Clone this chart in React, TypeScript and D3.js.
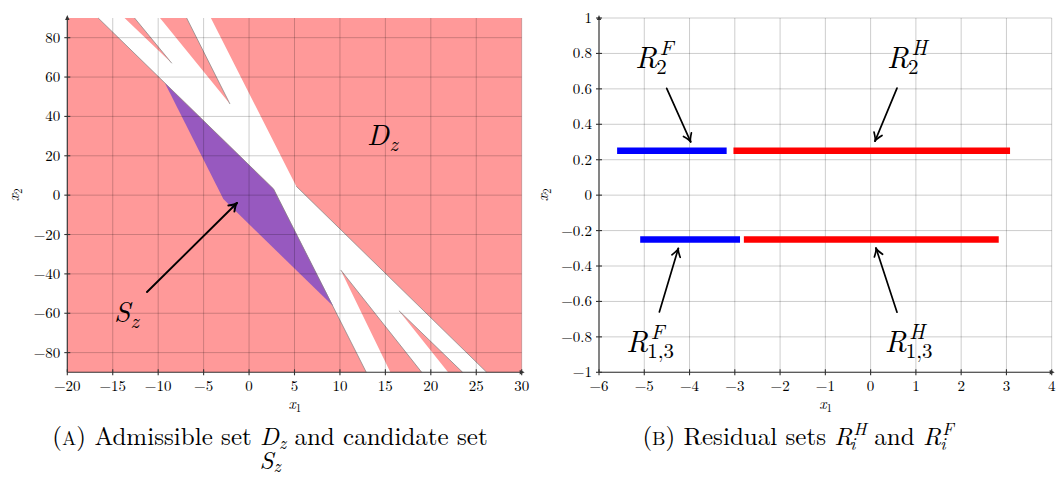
import React from "react";
import * as d3 from "d3";

const FONT = "'Latin Modern Roman'";

// ---------------- Panel A : admissible set D_z and candidate set S_z ----------------
const domainXA: [number, number] = [-20, 30];
const domainYA: [number, number] = [-90, 90];
const xTicksA = [-20, -15, -10, -5, 0, 5, 10, 15, 20, 25, 30];
const yTicksA = [-80, -60, -40, -20, 0, 20, 40, 60, 80];

// region of the window NOT in D_z (white band), vertices in (x1, x2)
const excludedBand: [number, number][] = [
  [-16.6, 90], [2.7, 3.14], [12.9, -90], [26.15, -90], [5.19, 4.55], [-4.2, 90],
];
// admissible wedges lying inside that band
const admissibleSpikes: [number, number][][] = [
  [[-13.7, 90], [-12.6, 90], [-8.5, 67]],
  [[-9.8, 90], [-6.87, 90], [-2.1, 46.3]],
  [[10.08, -38], [15.55, -90], [19.0, -90]],
  [[16.49, -58.7], [21.9, -90], [23.5, -90]],
];
// candidate set S_z
const candidateSet: [number, number][] = [
  [-9.25, 56.8], [2.7, 3.14], [9.27, -56.5], [-2.83, -2.0],
];
// constraint boundary segments drawn in gray
const boundaryEdges: [number, number][][] = [
  [[-16.6, 90], [2.7, 3.14]],
  [[2.7, 3.14], [12.9, -90]],
  [[5.19, 4.55], [26.15, -90]],
  [[-12.6, 90], [-8.5, 67]],
  [[-6.87, 90], [-2.1, 46.3]],
  [[10.08, -38], [19.0, -90]],
  [[16.49, -58.7], [23.5, -90]],
];
const arrowA: [number, number][] = [[-11.23, -49.2], [-1.33, -4.0]];
const labelDz: [number, number] = [12.97, 25.5];
const labelSz: [number, number] = [-14.86, -64.5];

// ---------------- Panel B : residual sets ----------------
const domainXB: [number, number] = [-6, 4];
const domainYB: [number, number] = [-1, 1];
const xTicksB = [-6, -5, -4, -3, -2, -1, 0, 1, 2, 3, 4];
const yTicksB = [-1, -0.8, -0.6, -0.4, -0.2, 0, 0.2, 0.4, 0.6, 0.8, 1];

const residualSub = ["2", "2", "1,3", "1,3"];
const residualKind = ["F", "H", "F", "H"];
const residualLevel = [0.25, 0.25, -0.25, -0.25];
const residualStart = [-5.6, -3.03, -5.09, -2.8];
const residualEnd = [-3.18, 3.08, -2.885, 2.83];
const residualArrowTail: [number, number][] = [[-4.505, 0.603], [0.583, 0.604], [-4.667, -0.659], [0.583, -0.661]];
const residualArrowHead: [number, number][] = [[-3.975, 0.301], [0.097, 0.305], [-4.248, -0.301], [0.119, -0.299]];
const residualLabelAt: [number, number][] = [[-5.2, 0.718], [0.36, 0.718], [-5.4, -0.887], [0.31, -0.887]];

const kindColor: Record<string, string> = { F: "#0000ff", H: "#ff0000" };

const fmt = (v: number) => (v < 0 ? "\u2212" + String(Math.abs(v)) : String(v));

function ArrowLine({ x1, y1, x2, y2, w = 1.7 }: { x1: number; y1: number; x2: number; y2: number; w?: number }) {
  const a = Math.atan2(y2 - y1, x2 - x1);
  const L = 9, h = 0.5;
  const p1 = [x2 - L * Math.cos(a - h), y2 - L * Math.sin(a - h)];
  const p2 = [x2 - L * Math.cos(a + h), y2 - L * Math.sin(a + h)];
  return (
    <g stroke="#000" strokeWidth={w} fill="none" strokeLinecap="round" strokeLinejoin="round">
      <line x1={x1} y1={y1} x2={x2} y2={y2} />
      <path d={`M${p1[0]},${p1[1]}Q${x2 - 2 * Math.cos(a)},${y2 - 2 * Math.sin(a)} ${x2},${y2}Q${x2 - 2 * Math.cos(a)},${y2 - 2 * Math.sin(a)} ${p2[0]},${p2[1]}`} />
    </g>
  );
}

function MathLabel({ x, y, base, sub, sup, size, subDx, supDx, subItalic = false }: any) {
  const s = size * 0.7;
  return (
    <g style={{ fontFamily: FONT }}>
      <text x={x} y={y} fontSize={size} fontStyle="italic">{base}</text>
      {sup && <text x={x + supDx} y={y - size * 0.43} fontSize={s} fontStyle="italic">{sup}</text>}
      {sub && <text x={x + subDx} y={y + size * 0.2} fontSize={s} fontStyle={subItalic ? "italic" : "normal"}>{sub}</text>}
    </g>
  );
}

function Grid({ x, y, xTicks, yTicks }: any) {
  const [x0, x1] = x.range();
  const [yb, yt] = y.range();
  return (
    <g stroke="#000" strokeOpacity={0.2} strokeWidth={1}>
      {xTicks.map((t: number) => (
        <line key={"gx" + t} x1={x(t)} x2={x(t)} y1={yt} y2={yb} />
      ))}
      {yTicks.map((t: number) => (
        <line key={"gy" + t} x1={x0} x2={x1} y1={y(t)} y2={y(t)} />
      ))}
    </g>
  );
}

function AxisFrame({ x, y, xTicks, yTicks, label }: any) {
  const [x0, x1] = x.range();
  const [yb, yt] = y.range();
  return (
    <g style={{ fontFamily: FONT }}>
      <g stroke="#333" strokeWidth={1.1}>
        <line x1={x0} x2={x1 + 1} y1={yb} y2={yb} />
        <line x1={x0} x2={x0} y1={yb} y2={yt - 1} />
        {xTicks.map((t: number) => (
          <line key={"tx" + t} x1={x(t)} x2={x(t)} y1={yb - 3} y2={yb + 3} />
        ))}
        {yTicks.map((t: number) => (
          <line key={"ty" + t} x1={x0 - 3} x2={x0 + 3} y1={y(t)} y2={y(t)} />
        ))}
      </g>
      <path d={`M${x1 + 3},${yb}L${x1 - 2},${yb - 2.2}L${x1 - 2},${yb + 2.2}Z`} fill="#333" />
      <path d={`M${x0},${yt - 3}L${x0 - 2.2},${yt + 2}L${x0 + 2.2},${yt + 2}Z`} fill="#333" />
      {xTicks.map((t: number) => (
        <text key={"lx" + t} x={x(t)} y={391} fontSize={15} textAnchor="middle">{fmt(t)}</text>
      ))}
      {yTicks.map((t: number) => (
        <text key={"ly" + t} x={x0 - 7} y={y(t) + 5} fontSize={15} textAnchor="end">{fmt(t)}</text>
      ))}
      <text x={(x0 + x1) / 2 - 6} y={409} fontSize={15.5} fontStyle="italic">
        x<tspan fontSize={11} fontStyle="normal" dy={3}>1</tspan>
      </text>
      <text transform={`translate(${label},${(yb + yt) / 2 + 6}) rotate(-90)`} fontSize={15.5} fontStyle="italic">
        x<tspan fontSize={11} fontStyle="normal" dy={3}>2</tspan>
      </text>
    </g>
  );
}

export default function App() {
  const xA = d3.scaleLinear().domain(domainXA).range([67.3, 521.7]);
  const yA = d3.scaleLinear().domain(domainYA).range([372.3, 18]);
  const xB = d3.scaleLinear().domain(domainXB).range([599, 1051.7]);
  const yB = d3.scaleLinear().domain(domainYB).range([372.3, 18]);

  const lineA = d3.line<[number, number]>().x((d) => xA(d[0])).y((d) => yA(d[1]));
  const poly = (pts: [number, number][]) => lineA(pts) + "Z";
  const [ax0, ax1] = xA.range();
  const [ayb, ayt] = yA.range();
  const redPath =
    `M${ax0},${ayt}H${ax1}V${ayb}H${ax0}Z` + poly(excludedBand) + admissibleSpikes.map(poly).join("");

  return (
    <svg width={1056} height={478} style={{ position: "absolute", left: 0, top: 0, background: "#fff", fontFamily: FONT }}>
      {/* ---------- Panel A ---------- */}
      <path d={redPath} fill="#ff9999" fillRule="evenodd" />
      <path d={poly(candidateSet)} fill="#9759bf" />
      <g stroke="#858585" strokeWidth={1} strokeOpacity={0.75}>
        {boundaryEdges.map((e, i) => (
          <line key={i} x1={xA(e[0][0])} y1={yA(e[0][1])} x2={xA(e[1][0])} y2={yA(e[1][1])} />
        ))}
      </g>
      <Grid x={xA} y={yA} xTicks={xTicksA} yTicks={yTicksA} />
      <AxisFrame x={xA} y={yA} xTicks={xTicksA} yTicks={yTicksA} label={19} />
      <ArrowLine x1={xA(arrowA[0][0])} y1={yA(arrowA[0][1])} x2={xA(arrowA[1][0])} y2={yA(arrowA[1][1])} w={1.9} />
      <MathLabel x={xA(labelDz[0])} y={yA(labelDz[1])} base="D" sub="z" size={29} subDx={22.5} subItalic />
      <MathLabel x={xA(labelSz[0])} y={yA(labelSz[1])} base="S" sub="z" size={29} subDx={16.5} subItalic />

      {/* ---------- Panel B ---------- */}
      <Grid x={xB} y={yB} xTicks={xTicksB} yTicks={yTicksB} />
      {residualLevel.map((lv, i) => (
        <line key={"seg" + i} x1={xB(residualStart[i])} x2={xB(residualEnd[i])} y1={yB(lv)} y2={yB(lv)}
          stroke={kindColor[residualKind[i]]} strokeWidth={6.5} />
      ))}
      <AxisFrame x={xB} y={yB} xTicks={xTicksB} yTicks={yTicksB} label={548} />
      {residualLevel.map((lv, i) => (
        <ArrowLine key={"ar" + i} x1={xB(residualArrowTail[i][0])} y1={yB(residualArrowTail[i][1])}
          x2={xB(residualArrowHead[i][0])} y2={yB(residualArrowHead[i][1])} />
      ))}
      {residualLevel.map((lv, i) => (
        <MathLabel key={"lb" + i} x={xB(residualLabelAt[i][0])} y={yB(residualLabelAt[i][1])}
          base="R" sub={residualSub[i]} sup={residualKind[i]} size={30} subDx={21} supDx={24.5} />
      ))}

      {/* ---------- Captions ---------- */}
      <g style={{ fontFamily: FONT }} fontSize={25}>
        <text x={270} y={445} textAnchor="middle">
          (<tspan fontSize={19}>A</tspan>){" Admissible set "}
          <tspan fontStyle="italic">D</tspan>
          <tspan fontStyle="italic" fontSize={17.5} dy={4}>z</tspan>
          <tspan dy={-4}>{" and candidate set"}</tspan>
        </text>
        <text x={270} y={469} textAnchor="middle">
          <tspan fontStyle="italic">S</tspan>
          <tspan fontStyle="italic" fontSize={17.5} dy={3}>z</tspan>
        </text>
        <text x={798} y={445} textAnchor="middle">
          (<tspan fontSize={19}>B</tspan>){" Residual sets "}
          <tspan fontStyle="italic">R</tspan>
          <tspan fontStyle="italic" fontSize={17.5} dx={1} dy={-10}>H</tspan>
          <tspan fontStyle="italic" fontSize={17.5} dx={-16.5} dy={15}>i</tspan>
          <tspan dx={10.5} dy={-5}>{" and "}</tspan>
          <tspan fontStyle="italic">R</tspan>
          <tspan fontStyle="italic" fontSize={17.5} dx={1} dy={-10}>F</tspan>
          <tspan fontStyle="italic" fontSize={17.5} dx={-13.3} dy={15}>i</tspan>
        </text>
      </g>
    </svg>
  );
}
